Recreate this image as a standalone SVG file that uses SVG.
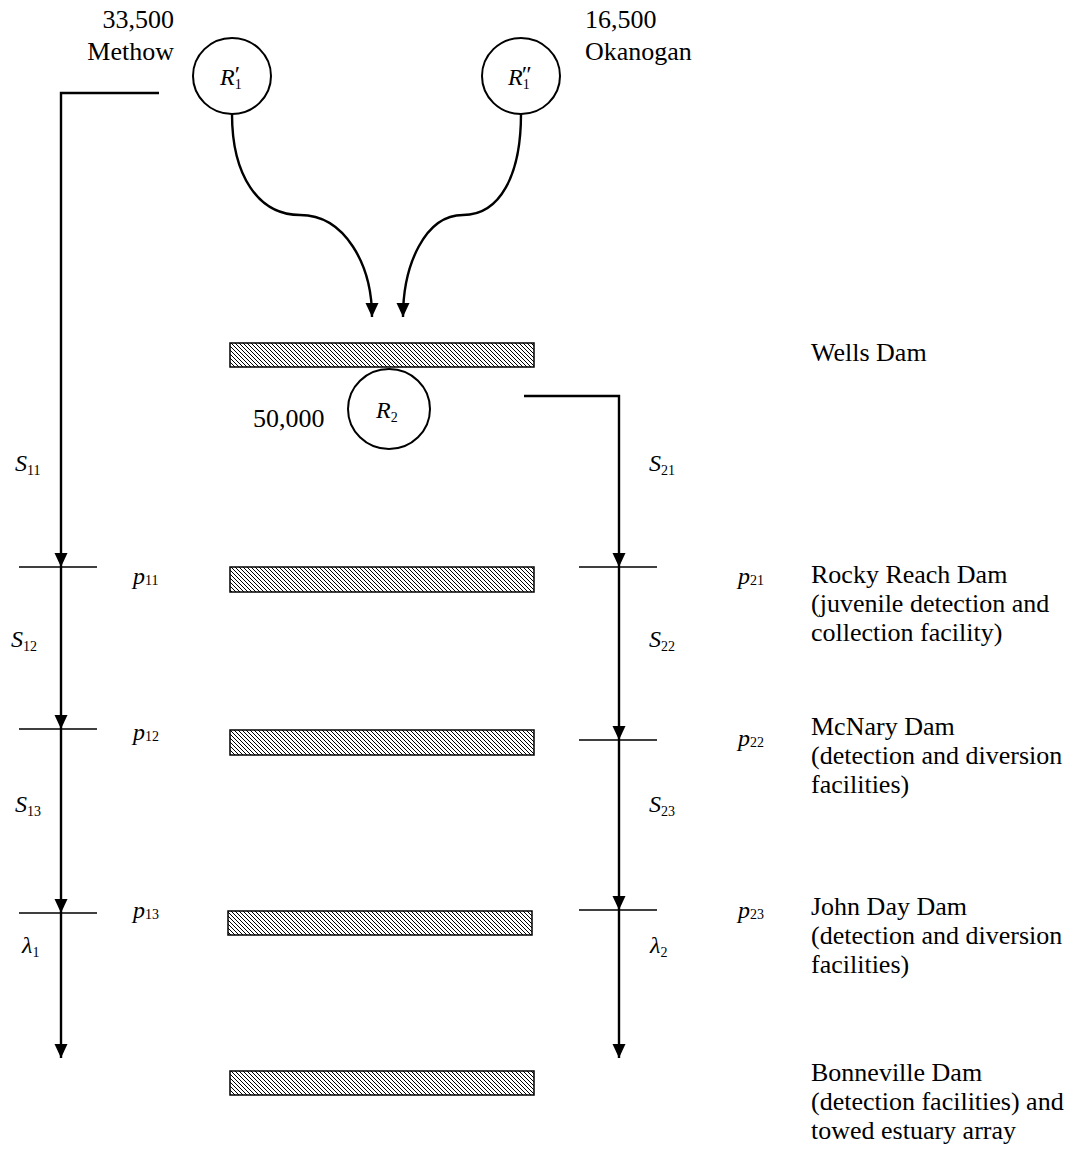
<svg xmlns="http://www.w3.org/2000/svg" width="1082" height="1150" viewBox="0 0 1082 1150">
<style>
text { font-family: "Liberation Serif", "Times New Roman", serif; fill: #000; }
.lbl { font-size: 26px; }
.m { font-size: 24px; font-style: italic; }
.sub { font-size: 14px; font-style: normal; }
.pr { font-size: 24px; font-style: normal; }
.node { fill: #fff; stroke: #000; stroke-width: 2; }
.bar { fill: url(#hatch); stroke: #000; stroke-width: 1.5; }
.flow { fill: none; stroke: #000; stroke-width: 2.4; }
.tick { fill: none; stroke: #000; stroke-width: 1.6; }
</style>
<defs>
<pattern id="hatch" width="4" height="4" patternUnits="userSpaceOnUse">
<rect width="4" height="4" fill="#fff"/>
<path d="M-1,-1 L5,5 M-1,3 L1,5 M3,-1 L5,1" stroke="#000" stroke-width="1"/>
</pattern>
<marker id="arr" viewBox="0 0 14 14" refX="14" refY="7" markerWidth="14" markerHeight="14" orient="auto" markerUnits="userSpaceOnUse">
<path d="M0,0.5 L14,7 L0,13.5 z" fill="#000"/>
</marker>
</defs>

<g id="dams">
<g id="wells-dam"><rect class="bar" x="230" y="343" width="304" height="24"/><text class="lbl" x="811" y="361">Wells Dam</text></g>
<g id="rocky-reach-dam"><rect class="bar" x="230" y="567" width="304" height="25"/>
<text class="lbl" x="811" y="583">Rocky Reach Dam</text>
<text class="lbl" x="811" y="612">(juvenile detection and</text>
<text class="lbl" x="811" y="641">collection facility)</text></g>
<g id="mcnary-dam"><rect class="bar" x="230" y="730" width="304" height="25"/>
<text class="lbl" x="811" y="735">McNary Dam</text>
<text class="lbl" x="811" y="764">(detection and diversion</text>
<text class="lbl" x="811" y="793">facilities)</text></g>
<g id="john-day-dam"><rect class="bar" x="228" y="911" width="304" height="24"/>
<text class="lbl" x="811" y="915">John Day Dam</text>
<text class="lbl" x="811" y="944">(detection and diversion</text>
<text class="lbl" x="811" y="973">facilities)</text></g>
<g id="bonneville-dam"><rect class="bar" x="230" y="1071" width="304" height="24"/>
<text class="lbl" x="811" y="1081">Bonneville Dam</text>
<text class="lbl" x="811" y="1110">(detection facilities) and</text>
<text class="lbl" x="811" y="1139">towed estuary array</text></g>
</g>

<g id="connectors">
<path class="flow" d="M232,114 C232,175 258,215 300,215 C345,215 372,265 372,317" marker-end="url(#arr)"/>
<path class="flow" d="M521,114 C521,175 500,215 463,215 C425,215 403,265 403,317" marker-end="url(#arr)"/>
<path class="flow" d="M159,93 H61 V567" marker-end="url(#arr)"/>
<path class="flow" d="M61,567 V729" marker-end="url(#arr)"/>
<path class="flow" d="M61,729 V913" marker-end="url(#arr)"/>
<path class="flow" d="M61,913 V1058" marker-end="url(#arr)"/>
<path class="flow" d="M524,396 H619 V567" marker-end="url(#arr)"/>
<path class="flow" d="M619,567 V740" marker-end="url(#arr)"/>
<path class="flow" d="M619,740 V910" marker-end="url(#arr)"/>
<path class="flow" d="M619,910 V1058" marker-end="url(#arr)"/>
<path class="tick" d="M19,567 H97 M19,729 H97 M19,913 H97 M579,567 H657 M579,740 H657 M579,910 H657"/>
</g>

<g id="R1p">
<ellipse class="node" cx="232" cy="76" rx="39" ry="38"/>
<text class="m" x="220" y="85">R<tspan class="sub" dy="4">1</tspan><tspan class="pr" dx="-7" dy="-7">′</tspan></text>
<text class="lbl" x="174" y="28" text-anchor="end">33,500</text>
<text class="lbl" x="174" y="60" text-anchor="end">Methow</text>
</g>
<g id="R1pp">
<ellipse class="node" cx="521" cy="76" rx="39" ry="38"/>
<text class="m" x="508" y="85">R<tspan class="sub" dy="4">1</tspan><tspan class="pr" dx="-8" dy="-7">″</tspan></text>
<text class="lbl" x="585" y="28">16,500</text>
<text class="lbl" x="585" y="60">Okanogan</text>
</g>
<g id="R2">
<ellipse class="node" cx="389" cy="409" rx="41" ry="40"/>
<text class="m" x="376" y="418">R<tspan class="sub" dy="4">2</tspan></text>
<text class="lbl" x="253" y="427">50,000</text>
</g>

<g id="labels">
<text class="m" x="15" y="471">S<tspan class="sub" dy="4">11</tspan></text>
<text class="m" x="11" y="647">S<tspan class="sub" dy="4">12</tspan></text>
<text class="m" x="15" y="812">S<tspan class="sub" dy="4">13</tspan></text>
<text class="m" x="133" y="584">p<tspan class="sub" dy="1">11</tspan></text>
<text class="m" x="133" y="740">p<tspan class="sub" dy="1">12</tspan></text>
<text class="m" x="133" y="918">p<tspan class="sub" dy="1">13</tspan></text>
<text class="m" x="22" y="953">λ<tspan class="sub" dy="4">1</tspan></text>
<text class="m" x="649" y="471">S<tspan class="sub" dy="4">21</tspan></text>
<text class="m" x="649" y="647">S<tspan class="sub" dy="4">22</tspan></text>
<text class="m" x="649" y="812">S<tspan class="sub" dy="4">23</tspan></text>
<text class="m" x="738" y="584">p<tspan class="sub" dy="1">21</tspan></text>
<text class="m" x="738" y="746">p<tspan class="sub" dy="1">22</tspan></text>
<text class="m" x="738" y="918">p<tspan class="sub" dy="1">23</tspan></text>
<text class="m" x="650" y="953">λ<tspan class="sub" dy="4">2</tspan></text>
</g>
</svg>
